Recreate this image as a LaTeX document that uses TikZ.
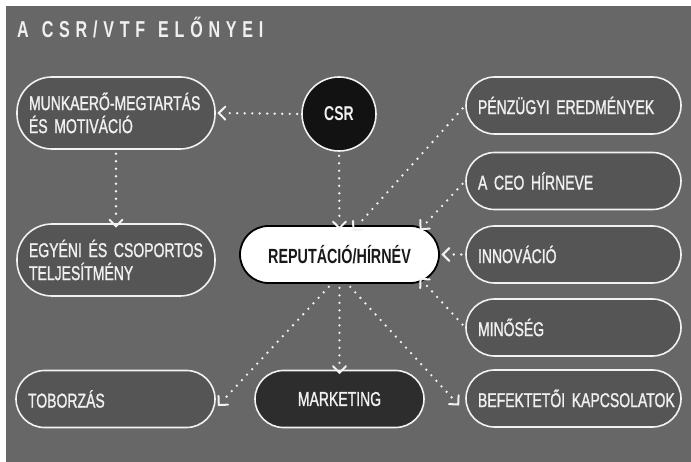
\documentclass[tikz,border=0pt]{standalone}
\usepackage{fontspec}
\setmainfont{Liberation Sans}[FakeStretch=0.70, WordSpace=0.7, UprightFeatures={FakeBold=1.2}]
\usetikzlibrary{calc,decorations.markings}
\definecolor{bgc}{HTML}{676767}
\definecolor{boxc}{HTML}{555555}
\definecolor{edge}{HTML}{F2F2F2}
\definecolor{txt}{HTML}{F0F0F0}
\definecolor{csrc}{HTML}{121212}
\definecolor{mktc}{HTML}{2D2D2D}
\begin{document}
\begin{tikzpicture}[x=1pt,y=-1pt,
  box/.style={draw=edge, line width=1.6pt, fill=boxc, rounded corners=28.5pt,
    minimum height=57pt, inner xsep=12pt, inner ysep=0pt, text=txt,
    font=\fontsize{20}{23}\selectfont, align=left},
  tallbox/.style={box, rounded corners=35pt, minimum height=72pt},
  leftbox/.style={box, text width=174pt},
  rightbox/.style={box, text width=191pt},
  chevron/.style={draw=edge, solid, line width=2pt, line cap=round, line join=miter,
    shorten >=0pt, shorten <=0pt},
  conn/.style={draw=edge, line width=2.6pt, line cap=round,
    dash pattern=on 0pt off 7.5pt, shorten >=6pt, shorten <=4pt,
    postaction={decorate, decoration={markings, mark=at position 1 with
      {\draw[chevron] (-6.5pt,6.5pt) -- (0pt,0pt) -- (-6.5pt,-6.5pt);}}}}
]
\useasboundingbox (0,0) rectangle (691,462);
\fill[white] (0,0) rectangle (691,462);
\fill[bgc] (6,6) rectangle (691,462);

\node[anchor=base west, text=txt, inner sep=0pt, font=\fontsize{23}{24}\selectfont\bfseries\addfontfeature{LetterSpace=25}]
  (title) at (17,38) {A\hspace{13pt}CSR/VTF\hspace{13pt}ELŐNYEI};

% left column
\node[leftbox, tallbox] (munk) at (116,113) {MUNKAERŐ-MEGTARTÁS\\ÉS MOTIVÁCIÓ};
\node[leftbox, tallbox] (egy) at (116,260) {EGYÉNI ÉS CSOPORTOS\\TELJESÍTMÉNY};
\node[leftbox, text width=175pt] (tob) at (115.5,399) {TOBORZÁS};

% center
\node[circle, draw=edge, line width=1.6pt, fill=csrc, minimum size=74pt, inner sep=0pt,
  text=txt, font=\fontsize{20}{24}\selectfont\bfseries] (csr) at (339,114) {CSR};
\node[draw=black, line width=1.8pt, fill=white, rounded corners=28.5pt, minimum height=57pt,
  minimum width=199pt, inner sep=0pt, text=black!90, font=\fontsize{20.5}{24}\selectfont\bfseries]
  (rep) at (339.5,254.5) {REPUTÁCIÓ/HÍRNÉV};
\node[box, fill=mktc, minimum width=169pt, align=center, inner xsep=0pt] (mkt) at (339.5,399) {MARKETING};

% right column
\node[rightbox] (pen) at (573.5,105.5) {PÉNZÜGYI EREDMÉNYEK};
\node[rightbox] (ceo) at (573.5,181) {A CEO HÍRNEVE};
\node[rightbox] (inn) at (573.5,254.5) {INNOVÁCIÓ};
\node[rightbox] (min) at (573.5,327.5) {MINŐSÉG};
\node[rightbox] (bef) at (573.5,398.5) {\mbox{BEFEKTETŐI KAPCSOLATOK}};

% connectors
\draw[conn] (csr.west) -- ([xshift=3pt]munk.east);
\draw[conn] (munk.south) -- ([yshift=-3pt]egy.north);
\draw[conn] (csr.south) -- ([yshift=-3pt]rep.north);
\draw[conn] (pen.west) -- ([xshift=14pt,yshift=-5pt]rep.north);
\draw[conn] (ceo.west) -- ([xshift=81pt,yshift=-4pt]rep.north);
\draw[conn] (inn.west) -- ([xshift=3pt]rep.east);
\draw[conn] (min.west) -- ([xshift=81pt,yshift=5pt]rep.south);
\draw[conn] ([xshift=-8pt]rep.south) -- ([xshift=3pt,yshift=-6pt]tob.east);
\draw[conn] (rep.south) -- ([yshift=-3pt]mkt.north);
\draw[conn] ([xshift=8pt]rep.south) -- ([xshift=-7pt,yshift=-6pt]bef.west);
\end{tikzpicture}
\end{document}
